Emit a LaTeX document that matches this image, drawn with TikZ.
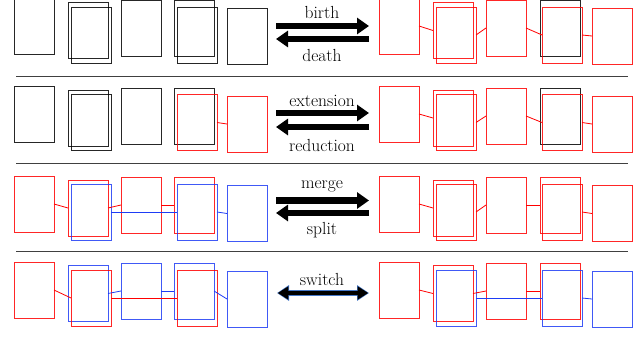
\documentclass[tikz,border=0pt]{standalone}
\usepackage{fontspec}
\usetikzlibrary{arrows.meta}
\definecolor{linkblue}{RGB}{30,60,245}
\definecolor{rimblue}{RGB}{70,120,200}
\begin{document}
\begin{tikzpicture}[x=1pt,y=-1pt,
  box/.style={draw,rectangle,minimum width=40pt,minimum height=56pt,inner sep=0pt,outer sep=0pt,line width=0.8pt,draw opacity=0.85},
  bk/.style={box,draw=black},
  rd/.style={box,draw=red},
  bl/.style={box,draw=linkblue},
  rl/.style={red,line width=0.8pt},
  bll/.style={linkblue,line width=0.8pt},
  sep/.style={draw=black!75,line width=0.9pt},
  big/.style={line width=6.5pt,-{Triangle[length=12pt,width=16pt]}},
  lbl/.style={font=\fontsize{17.5}{20}\selectfont,inner sep=0pt}]
\useasboundingbox (0,0) rectangle (644,337);

% ---------- row 1: birth / death ----------
\node[bk] (a1) at (34,26) {};
\node[bk] (b1) at (88,30.5) {};
\node[bk] (b1x) at (91,35) {};
\node[bk] (c1) at (141,28) {};
\node[bk] (d1) at (194,28) {};
\node[bk] (d1x) at (197,35) {};
\node[bk] (e1) at (247,36) {};

\node[rd] (a1r) at (399,26) {};
\node[rd] (b1r) at (453,30.5) {};
\node[rd] (b1rx) at (456,35) {};
\node[rd] (c1r) at (506,28) {};
\node[bk] (d1r) at (560,28) {};
\node[rd] (d1rx) at (562,35) {};
\node[rd] (e1r) at (612,36) {};
\draw[rl] (a1r.east) -- (b1r.west);
\draw[rl] (b1rx.east) -- (c1r.west);
\draw[rl] (c1r.east) -- (d1rx.west);
\draw[rl] (d1rx.east) -- (e1r.west);

\coordinate (p1a) at (276,26); \coordinate (p1b) at (369,26);
\coordinate (q1a) at (369,39); \coordinate (q1b) at (276,39);
\draw[big] (p1a) -- (p1b);
\draw[big] (q1a) -- (q1b);
\node[lbl] (t1a) at (322,12) {birth};
\node[lbl] (t1b) at (322,55) {death};

\coordinate (s1a) at (16,76); \coordinate (s1b) at (628,76);
\draw[sep] (s1a) -- (s1b);

% ---------- row 2: extension / reduction ----------
\node[bk] (a2) at (34,114) {};
\node[bk] (b2) at (88,118) {};
\node[bk] (b2x) at (91,122.5) {};
\node[bk] (c2) at (141,116) {};
\node[bk] (d2) at (194,116) {};
\node[rd] (d2x) at (197,122.5) {};
\node[rd] (e2) at (247,124) {};
\draw[rl] (d2x.east) -- (e2.west);

\node[rd] (a2r) at (399,114) {};
\node[rd] (b2r) at (453,118) {};
\node[rd] (b2rx) at (456,122.5) {};
\node[rd] (c2r) at (506,116) {};
\node[bk] (d2r) at (560,116) {};
\node[rd] (d2rx) at (562,122.5) {};
\node[rd] (e2r) at (612,124) {};
\draw[rl] (a2r.east) -- (b2r.west);
\draw[rl] (b2rx.east) -- (c2r.west);
\draw[rl] (c2r.east) -- (d2rx.west);
\draw[rl] (d2rx.east) -- (e2r.west);

\coordinate (p2a) at (276,113); \coordinate (p2b) at (369,113);
\coordinate (q2a) at (369,127); \coordinate (q2b) at (276,127);
\draw[big] (p2a) -- (p2b);
\draw[big] (q2a) -- (q2b);
\node[lbl] (t2a) at (322,101) {extension};
\node[lbl] (t2b) at (322,145) {reduction};

\coordinate (s2a) at (16,163); \coordinate (s2b) at (628,163);
\draw[sep] (s2a) -- (s2b);

% ---------- row 3: merge / split ----------
\node[rd] (a3) at (34,204) {};
\node[rd] (b3) at (88,208) {};
\node[bl] (b3x) at (91,212) {};
\node[rd] (c3) at (141,205) {};
\node[rd] (d3) at (194,205) {};
\node[bl] (d3x) at (197,212) {};
\node[bl] (e3) at (247,213.5) {};
\draw[rl] (a3.east) -- (b3.west);
\draw[rl] (b3.east) -- (c3.west);
\draw[rl] (c3.east) -- (d3.west);
\draw[bll] (b3x.east) -- (d3x.west);
\draw[bll] (d3x.east) -- (e3.west);

\node[rd] (a3r) at (399,204) {};
\node[rd] (b3r) at (453,208) {};
\node[rd] (b3rx) at (456,212) {};
\node[rd] (c3r) at (506,205) {};
\node[rd] (d3r) at (560,205) {};
\node[rd] (d3rx) at (562,212) {};
\node[rd] (e3r) at (612,213.5) {};
\draw[rl] (a3r.east) -- (b3r.west);
\draw[rl] (b3rx.east) -- (c3r.west);
\draw[rl] (c3r.east) -- (d3r.west);
\draw[rl] (d3rx.east) -- (e3r.west);

\coordinate (p3a) at (276,200.5); \coordinate (p3b) at (369,200.5);
\coordinate (q3a) at (369,213); \coordinate (q3b) at (276,213);
\draw[big] (p3a) -- (p3b);
\draw[big] (q3a) -- (q3b);
\node[lbl] (t3a) at (322,186) {merge};
\node[lbl] (t3b) at (322,230) {split};

\coordinate (s3a) at (16,251); \coordinate (s3b) at (628,251);
\draw[sep] (s3a) -- (s3b);

% ---------- row 4: switch ----------
\node[rd] (a4) at (34,290) {};
\node[bl] (b4) at (88,293.5) {};
\node[rd] (b4x) at (91,298) {};
\node[bl] (c4) at (141,291) {};
\node[bl] (d4) at (194,291) {};
\node[rd] (d4x) at (197,298) {};
\node[bl] (e4) at (247,299) {};
\draw[rl] (a4.east) -- (b4x.west);
\draw[rl] (b4x.east) -- (d4x.west);
\draw[bll] (b4.east) -- (c4.west);
\draw[bll] (c4.east) -- (d4.west);
\draw[bll] (d4.east) -- (e4.west);

\node[rd] (a4r) at (399,290) {};
\node[rd] (b4r) at (453,293.5) {};
\node[bl] (b4rx) at (456,298) {};
\node[rd] (c4r) at (506,291) {};
\node[rd] (d4r) at (560,291) {};
\node[bl] (d4rx) at (562,298) {};
\node[bl] (e4r) at (612,299) {};
\draw[rl] (a4r.east) -- (b4r.west);
\draw[rl] (b4r.east) -- (c4r.west);
\draw[rl] (c4r.east) -- (d4r.west);
\draw[bll] (b4rx.east) -- (d4rx.west);
\draw[bll] (d4rx.east) -- (e4r.west);

% double-headed arrow: black core with a thin blue rim
\coordinate (p4a) at (277,293); \coordinate (p4b) at (369,293);
\draw[line width=6pt,draw=rimblue,fill=rimblue,
  {Triangle[length=12pt,width=15pt]}-{Triangle[length=12pt,width=15pt]}] (p4a) -- (p4b);
\draw[line width=4.5pt,{Triangle[length=10.5pt,width=12.5pt]}-{Triangle[length=10.5pt,width=12.5pt]},
  shorten <=0.8pt,shorten >=0.8pt] (p4a) -- (p4b);
\node[lbl] (t4a) at (322,279) {switch};
\end{tikzpicture}
\end{document}
